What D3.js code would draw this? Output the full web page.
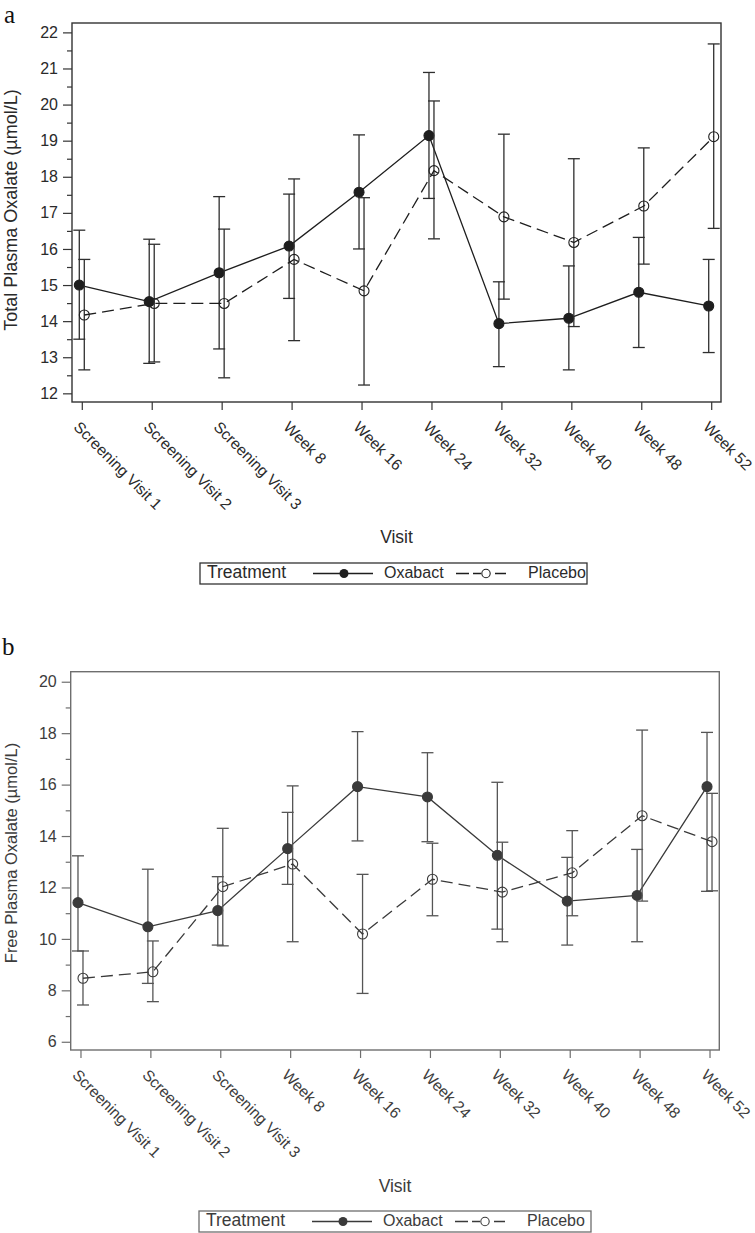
<!DOCTYPE html>
<html><head><meta charset="utf-8">
<script src="https://cdn.jsdelivr.net/npm/d3@7"></script>
<style>body{margin:0;background:#fff}svg{display:block}</style>
</head><body>
<script>
const categories = ["Screening Visit 1","Screening Visit 2","Screening Visit 3","Week 8","Week 16","Week 24","Week 32","Week 40","Week 48","Week 52"];
const seriesNames = ["Oxabact","Placebo"];
const legendTitle = "Treatment";
const xTitle = "Visit";

// Panel a: Total plasma oxalate
const totalYTicks = [12,13,14,15,16,17,18,19,20,21,22];
const totalOxabactMean  = [15.00,14.54,15.34,16.08,17.57,19.14,13.93,14.08,14.80,14.42];
const totalOxabactUpper = [16.52,16.27,17.45,17.52,19.16,20.89,15.09,15.53,16.32,15.71];
const totalOxabactLower = [13.50,12.83,13.23,14.63,16.00,17.40,12.74,12.65,13.27,13.13];
const totalPlaceboMean  = [14.17,14.49,14.49,15.71,14.84,18.17,16.89,16.18,17.19,19.11];
const totalPlaceboUpper = [15.71,16.13,16.55,17.94,17.42,20.10,19.18,18.50,18.80,21.68];
const totalPlaceboLower = [12.65,12.87,12.43,13.46,12.23,16.28,14.61,13.85,15.58,16.57];

// Panel b: Free plasma oxalate
const freeYTicks = [6,8,10,12,14,16,18,20];
const freeOxabactMean  = [11.41,10.47,11.10,13.51,15.92,15.52,13.25,11.47,11.69,15.92];
const freeOxabactUpper = [13.23,12.71,12.42,14.92,18.06,17.24,16.09,13.17,13.48,18.03];
const freeOxabactLower = [9.53,8.27,9.76,12.12,13.81,13.78,10.38,9.76,9.89,11.85];
const freePlaceboMean  = [8.47,8.72,12.03,12.91,10.19,12.32,11.82,12.57,14.79,13.78];
const freePlaceboUpper = [9.53,9.92,14.30,15.95,12.51,13.72,13.76,14.21,18.12,15.66];
const freePlaceboLower = [7.43,7.56,9.73,9.89,7.88,10.90,9.89,10.90,11.47,11.87];

const FONT = "'Liberation Sans', Arial, Helvetica, sans-serif";
const svg = d3.select("body").append("svg").attr("width",755).attr("height",1233);

function drawPanel(c){
  const g = svg.append("g");
  const x = d3.scalePoint().domain(categories).range([c.x0,c.x1]).padding(0.14);
  const y = d3.scaleLinear().domain(c.yDomain).range([c.y1,c.y0]);
  const off = {Oxabact:-2.5, Placebo:2.5};

  // letter
  g.append("text").attr("x",c.letterX).attr("y",c.letterY).text(c.letter)
    .attr("font-family","'Liberation Serif', 'Times New Roman', serif").attr("font-size",25).attr("fill","#111");

  // frame
  g.append("rect").attr("x",c.x0).attr("y",c.y0).attr("width",c.x1-c.x0).attr("height",c.y1-c.y0)
    .attr("fill","none").attr("stroke",c.frameColor).attr("stroke-width",1.4);

  // y axis major
  const ya = g.append("g").attr("transform",`translate(${c.x0},0)`)
    .call(d3.axisLeft(y).tickValues(c.yTicks).tickSize(9).tickPadding(5).tickFormat(d3.format("d")));
  ya.select(".domain").remove();
  ya.selectAll("line").attr("stroke",c.frameColor).attr("stroke-width",1.2);
  ya.selectAll("text").attr("font-family",FONT).attr("font-size",16).attr("fill",c.textColor);
  // y minor
  const minor = d3.range(c.yTicks[0]-c.minorStep, c.yTicks[c.yTicks.length-1]+c.minorStep*1.01, c.minorStep)
    .filter(v=>v>=c.yDomain[0]&&v<=c.yDomain[1]&&!c.yTicks.includes(+v.toFixed(3)));
  const ym = g.append("g").attr("transform",`translate(${c.x0},0)`)
    .call(d3.axisLeft(y).tickValues(minor).tickSize(5).tickFormat(""));
  ym.select(".domain").remove();
  ym.selectAll("line").attr("stroke",c.frameColor).attr("stroke-width",1.2);

  // x axis
  const xa = g.append("g").attr("transform",`translate(0,${c.y1})`)
    .call(d3.axisBottom(x).tickSize(8).tickFormat(""));
  xa.select(".domain").remove();
  xa.selectAll("line").attr("stroke",c.frameColor).attr("stroke-width",1.2);
  g.selectAll(".xlab").data(categories).enter().append("text")
    .attr("transform",d=>`translate(${x(d)-9},${c.y1+26}) rotate(45)`)
    .attr("font-family",FONT).attr("font-size",15.6).attr("fill",c.textColor).text(d=>d);

  // titles
  g.append("text").attr("x",(c.x0+c.x1)/2).attr("y",c.xTitleY).attr("text-anchor","middle")
    .attr("font-family",FONT).attr("font-size",17.5).attr("fill",c.textColor).text(xTitle);
  g.append("text").attr("transform",`translate(17,${c.yTitleCY}) rotate(-90)`).attr("text-anchor","middle")
    .attr("font-family",FONT).attr("font-size",c.yTitleSize).attr("fill",c.textColor).text(c.yTitle);

  const series = [
    {name:"Oxabact", mean:c.oxM, up:c.oxU, lo:c.oxL, dash:null, fill:c.lineColor},
    {name:"Placebo", mean:c.plM, up:c.plU, lo:c.plL, dash:"12,6", fill:"none"}
  ];
  series.forEach(s=>{
    const pts = categories.map((cat,i)=>({x:x(cat)+off[s.name], m:s.mean[i], u:s.up[i], l:s.lo[i]}));
    const eb = g.append("g");
    pts.forEach(p=>{
      eb.append("line").attr("x1",p.x).attr("x2",p.x).attr("y1",y(p.u)).attr("y2",y(p.l));
      eb.append("line").attr("x1",p.x-6).attr("x2",p.x+6).attr("y1",y(p.u)).attr("y2",y(p.u));
      eb.append("line").attr("x1",p.x-6).attr("x2",p.x+6).attr("y1",y(p.l)).attr("y2",y(p.l));
    });
    eb.selectAll("line").attr("stroke",c.errColor).attr("stroke-width",1.3);
    g.append("path").datum(pts).attr("d",d3.line().x(p=>p.x).y(p=>y(p.m)))
      .attr("fill","none").attr("stroke",c.lineColor).attr("stroke-width",1.3)
      .attr("stroke-dasharray",s.dash);
    g.selectAll(null).data(pts).enter().append("circle")
      .attr("cx",p=>p.x).attr("cy",p=>y(p.m)).attr("r",5)
      .attr("fill",s.fill).attr("stroke",c.lineColor).attr("stroke-width",1.1);
  });

  // legend
  const L = c.legend;
  g.append("rect").attr("x",L.x).attr("y",L.y).attr("width",L.w).attr("height",L.h)
    .attr("fill","#fff").attr("stroke",c.frameColor).attr("stroke-width",1.3);
  const by = L.y + 15.3;
  const my = L.y + 10.5;
  g.append("text").attr("x",L.x+7).attr("y",by).attr("font-family",FONT).attr("font-size",17.5)
    .attr("fill",c.textColor).text(legendTitle);
  g.append("line").attr("x1",L.x+113).attr("x2",L.x+173).attr("y1",my).attr("y2",my)
    .attr("stroke",c.lineColor).attr("stroke-width",1.3);
  g.append("circle").attr("cx",L.x+144).attr("cy",my).attr("r",4.5).attr("fill",c.lineColor);
  g.append("text").attr("x",L.x+184).attr("y",by).attr("font-family",FONT).attr("font-size",16)
    .attr("fill",c.textColor).text(seriesNames[0]);
  g.append("line").attr("x1",L.x+256).attr("x2",L.x+313).attr("y1",my).attr("y2",my)
    .attr("stroke",c.lineColor).attr("stroke-width",1.3).attr("stroke-dasharray","13,4,8,14,11,12,1");
  g.append("circle").attr("cx",L.x+286).attr("cy",my).attr("r",4.2).attr("fill","none")
    .attr("stroke",c.lineColor).attr("stroke-width",1.1);
  g.append("text").attr("x",L.x+328).attr("y",by).attr("font-family",FONT).attr("font-size",16)
    .attr("fill",c.textColor).text(seriesNames[1]);
}

drawPanel({
  letter:"a", letterX:4, letterY:23,
  x0:72, x1:721, y0:23, y1:402, yDomain:[11.76,22.26], yTicks:totalYTicks, minorStep:0.5,
  frameColor:"#333", textColor:"#2a2a2a", lineColor:"#1e1e1e", errColor:"#2e2e2e",
  xTitleY:543, yTitle:"Total Plasma Oxalate (µmol/L)", yTitleCY:210, yTitleSize:18,
  oxM:totalOxabactMean, oxU:totalOxabactUpper, oxL:totalOxabactLower,
  plM:totalPlaceboMean, plU:totalPlaceboUpper, plL:totalPlaceboLower,
  legend:{x:200,y:563,w:387,h:21}
});
drawPanel({
  letter:"b", letterX:2, letterY:655,
  x0:70.7, x1:719.3, y0:671.7, y1:1050, yDomain:[5.68,20.39], yTicks:freeYTicks, minorStep:1,
  frameColor:"#6e6e6e", textColor:"#3c3c3c", lineColor:"#3a3a3a", errColor:"#555",
  xTitleY:1191.5, yTitle:"Free Plasma Oxalate (µmol/L)", yTitleCY:853, yTitleSize:16.5,
  oxM:freeOxabactMean, oxU:freeOxabactUpper, oxL:freeOxabactLower,
  plM:freePlaceboMean, plU:freePlaceboUpper, plL:freePlaceboLower,
  legend:{x:199,y:1211,w:392,h:21}
});
</script>
</body></html>
